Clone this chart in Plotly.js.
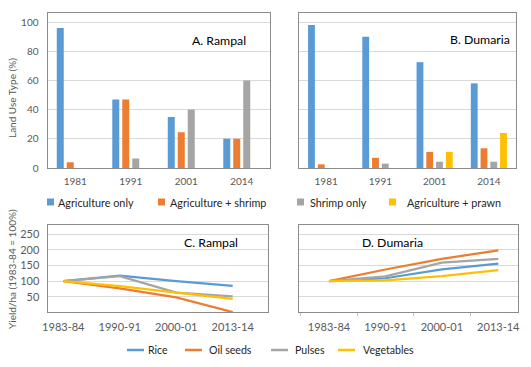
<!DOCTYPE html>
<html>
<head>
<meta charset="utf-8">
<script src="https://cdn.plot.ly/plotly-3.0.1.min.js"></script>
<style>html,body{margin:0;padding:0;background:#fff;}#chart{width:531px;height:367px;}</style>
</head>
<body>
<div id="chart"></div>
<script>
// ---- data ----
var years = ['1981', '1991', '2001', '2014'];
var landSeries = ['Agriculture only', 'Agriculture + shrimp', 'Shrimp only', 'Agriculture + prawn'];
var rampalAgriOnly = [96, 47, 35, 20];
var rampalAgriShrimp = [4, 47, 24.5, 20];
var rampalShrimpOnly = [0, 6.5, 40, 60];
var rampalAgriPrawn = [0, 0, 0, 0];
var dumariaAgriOnly = [98, 90, 72.5, 58];
var dumariaAgriShrimp = [2.5, 7, 11, 13.5];
var dumariaShrimpOnly = [0, 3, 4.3, 4.3];
var dumariaAgriPrawn = [0, 0, 11, 24];

var periods = ['1983-84', '1990-91', '2000-01', '2013-14'];
var cropSeries = ['Rice', 'Oil seeds', 'Pulses', 'Vegetables'];
var rampalRice = [100, 117, 100, 85];
var rampalOilseeds = [100, 77, 48, 1];
var rampalPulses = [100, 116, 63, 51];
var rampalVegetables = [100, 84, 63, 43];
var dumariaRice = [100, 109, 137, 156];
var dumariaOilseeds = [100, 137, 171, 198];
var dumariaPulses = [100, 115, 159, 171];
var dumariaVegetables = [100, 102, 116, 135];

var colors = ['#5B9BD5', '#ED7D31', '#A5A5A5', '#FFC000'];
var FONT = 'Lato, "Liberation Sans", sans-serif';
var W = 531, H = 367;
function fx(px) { return px / W; }
function fy(py) { return 1 - py / H; }

var traces = [];
var rampalBars = [rampalAgriOnly, rampalAgriShrimp, rampalShrimpOnly, rampalAgriPrawn];
var dumariaBars = [dumariaAgriOnly, dumariaAgriShrimp, dumariaShrimpOnly, dumariaAgriPrawn];
for (var i = 0; i < 4; i++) {
  traces.push({type: 'bar', x: years, y: rampalBars[i], name: landSeries[i], xaxis: 'x', yaxis: 'y',
    marker: {color: colors[i]}, showlegend: false});
}
for (var i = 0; i < 4; i++) {
  traces.push({type: 'bar', x: years, y: dumariaBars[i], name: landSeries[i], xaxis: 'x2', yaxis: 'y2',
    marker: {color: colors[i]}, showlegend: false});
}
var idx = [0, 1, 2, 3];
var rampalLines = [rampalRice, rampalOilseeds, rampalPulses, rampalVegetables];
var dumariaLines = [dumariaRice, dumariaOilseeds, dumariaPulses, dumariaVegetables];
for (var i = 0; i < 4; i++) {
  traces.push({type: 'scatter', mode: 'lines', x: idx, y: rampalLines[i], name: cropSeries[i], xaxis: 'x3', yaxis: 'y3',
    line: {color: colors[i], width: 2.25}, showlegend: false});
}
for (var i = 0; i < 4; i++) {
  traces.push({type: 'scatter', mode: 'lines', x: idx, y: dumariaLines[i], name: cropSeries[i], xaxis: 'x4', yaxis: 'y4',
    line: {color: colors[i], width: 2.25}, showlegend: false});
}

var tickFontTop = {family: FONT, size: 10, color: '#595959'};
var tickFontBot = {family: FONT, size: 11, color: '#595959'};
var frame = '#8c8c8c';
var grid = '#d9d9d9';

function barX(d0, d1) {
  return {domain: [fx(d0), fx(d1)], type: 'category', showline: true, mirror: true, linecolor: frame, linewidth: 1,
    ticks: '', tickfont: tickFontTop, showgrid: false, fixedrange: true, ticklabelstandoff: 4};
}
function barY(showLabels) {
  return {domain: [fy(168), fy(13)], range: [0, 106.2], showline: true, mirror: true, linecolor: frame, linewidth: 1,
    tickvals: [0, 20, 40, 60, 80, 100], showticklabels: showLabels, tickfont: tickFontTop, gridcolor: grid, gridwidth: 1,
    zeroline: false, ticks: '', fixedrange: true, ticklabelstandoff: 6};
}
function lineX(d0, d1, r0, r1, minorTicks) {
  var ax = {domain: [fx(d0), fx(d1)], range: [r0, r1], tickvals: idx, ticktext: periods, showline: true, mirror: true,
    linecolor: frame, linewidth: 1, ticks: '', tickfont: tickFontBot, showgrid: false, zeroline: false, fixedrange: true,
    ticklabelstandoff: 4};
  if (minorTicks) {
    ax.minor = {tickvals: [-0.5, 0.5, 1.5, 2.5], ticks: 'outside', ticklen: 3, tickcolor: '#bfbfbf', showgrid: false};
  }
  return ax;
}
function lineY(showLabels) {
  return {domain: [fy(312.4), fy(225)], range: [0, 279], showline: true, mirror: true, linecolor: frame, linewidth: 1,
    tickvals: [50, 100, 150, 200, 250], showticklabels: showLabels, tickfont: tickFontBot, gridcolor: grid, gridwidth: 1,
    zeroline: false, ticks: '', fixedrange: true, ticklabelstandoff: 5};
}

var titleFont = {family: FONT, size: 12.3, color: '#000'};
var annotations = [
  {text: 'A. Rampal', xref: 'paper', yref: 'paper', x: fx(190), y: fy(41), xanchor: 'left', yanchor: 'middle',
    showarrow: false, font: titleFont},
  {text: 'B. Dumaria', xref: 'paper', yref: 'paper', x: fx(448), y: fy(39), xanchor: 'left', yanchor: 'middle',
    showarrow: false, font: titleFont},
  {text: 'C. Rampal', xref: 'paper', yref: 'paper', x: fx(182), y: fy(242), xanchor: 'left', yanchor: 'middle',
    showarrow: false, font: titleFont},
  {text: 'D. Dumaria', xref: 'paper', yref: 'paper', x: fx(360), y: fy(242), xanchor: 'left', yanchor: 'middle',
    showarrow: false, font: titleFont},
  {text: 'Land Use Type (%)', xref: 'paper', yref: 'paper', x: fx(12), y: fy(98), xanchor: 'center', yanchor: 'middle',
    textangle: -90, showarrow: false, font: {family: FONT, size: 10, color: '#595959'}},
  {text: 'Yield/ha (1983-84 = 100%)', xref: 'paper', yref: 'paper', x: fx(12), y: fy(269), xanchor: 'center', yanchor: 'middle',
    textangle: -90, showarrow: false, font: {family: FONT, size: 10, color: '#595959'}}
];
var shapes = [];
// bar legend (top)
var barKeyX = [47, 158, 297, 389];
var barTextX = [56, 168, 308, 405];
for (var i = 0; i < 4; i++) {
  shapes.push({type: 'rect', xref: 'paper', yref: 'paper', x0: fx(barKeyX[i]), x1: fx(barKeyX[i] + 7),
    y0: fy(205.5), y1: fy(198.5), fillcolor: colors[i], line: {width: 0}});
  annotations.push({text: landSeries[i], xref: 'paper', yref: 'paper', x: fx(barTextX[i]), y: fy(202), xanchor: 'left',
    yanchor: 'middle', showarrow: false, font: {family: FONT, size: 10.8, color: '#262626'}});
}
// line legend (bottom)
var lineKeyX = [127, 185, 271, 338];
var lineTextX = [146, 207, 293, 361];
for (var i = 0; i < 4; i++) {
  shapes.push({type: 'line', xref: 'paper', yref: 'paper', x0: fx(lineKeyX[i]), x1: fx(lineKeyX[i] + 17),
    y0: fy(350), y1: fy(350), line: {color: colors[i], width: 2.5}});
  annotations.push({text: cropSeries[i], xref: 'paper', yref: 'paper', x: fx(lineTextX[i]), y: fy(350), xanchor: 'left',
    yanchor: 'middle', showarrow: false, font: {family: FONT, size: 10.6, color: '#262626'}});
}

var layout = {
  width: W, height: H, margin: {l: 0, r: 0, t: 0, b: 0}, paper_bgcolor: '#fff', plot_bgcolor: '#fff',
  showlegend: false, barmode: 'group', bargap: 0.28, bargroupgap: 0.3,
  font: {family: FONT},
  xaxis: barX(47.5, 269.5), yaxis: barY(true),
  xaxis2: barX(299, 516), yaxis2: barY(false),
  xaxis3: lineX(47.5, 267.7, -0.28, 3.62, false), yaxis3: lineY(true),
  xaxis4: lineX(298.5, 517.5, -0.54, 3.34, true), yaxis4: lineY(false),
  annotations: annotations, shapes: shapes
};
layout.xaxis.anchor = 'y'; layout.yaxis.anchor = 'x';
layout.xaxis2.anchor = 'y2'; layout.yaxis2.anchor = 'x2';
layout.xaxis3.anchor = 'y3'; layout.yaxis3.anchor = 'x3';
layout.xaxis4.anchor = 'y4'; layout.yaxis4.anchor = 'x4';

Plotly.newPlot('chart', traces, layout, {staticPlot: true, displayModeBar: false});
</script>
</body>
</html>
